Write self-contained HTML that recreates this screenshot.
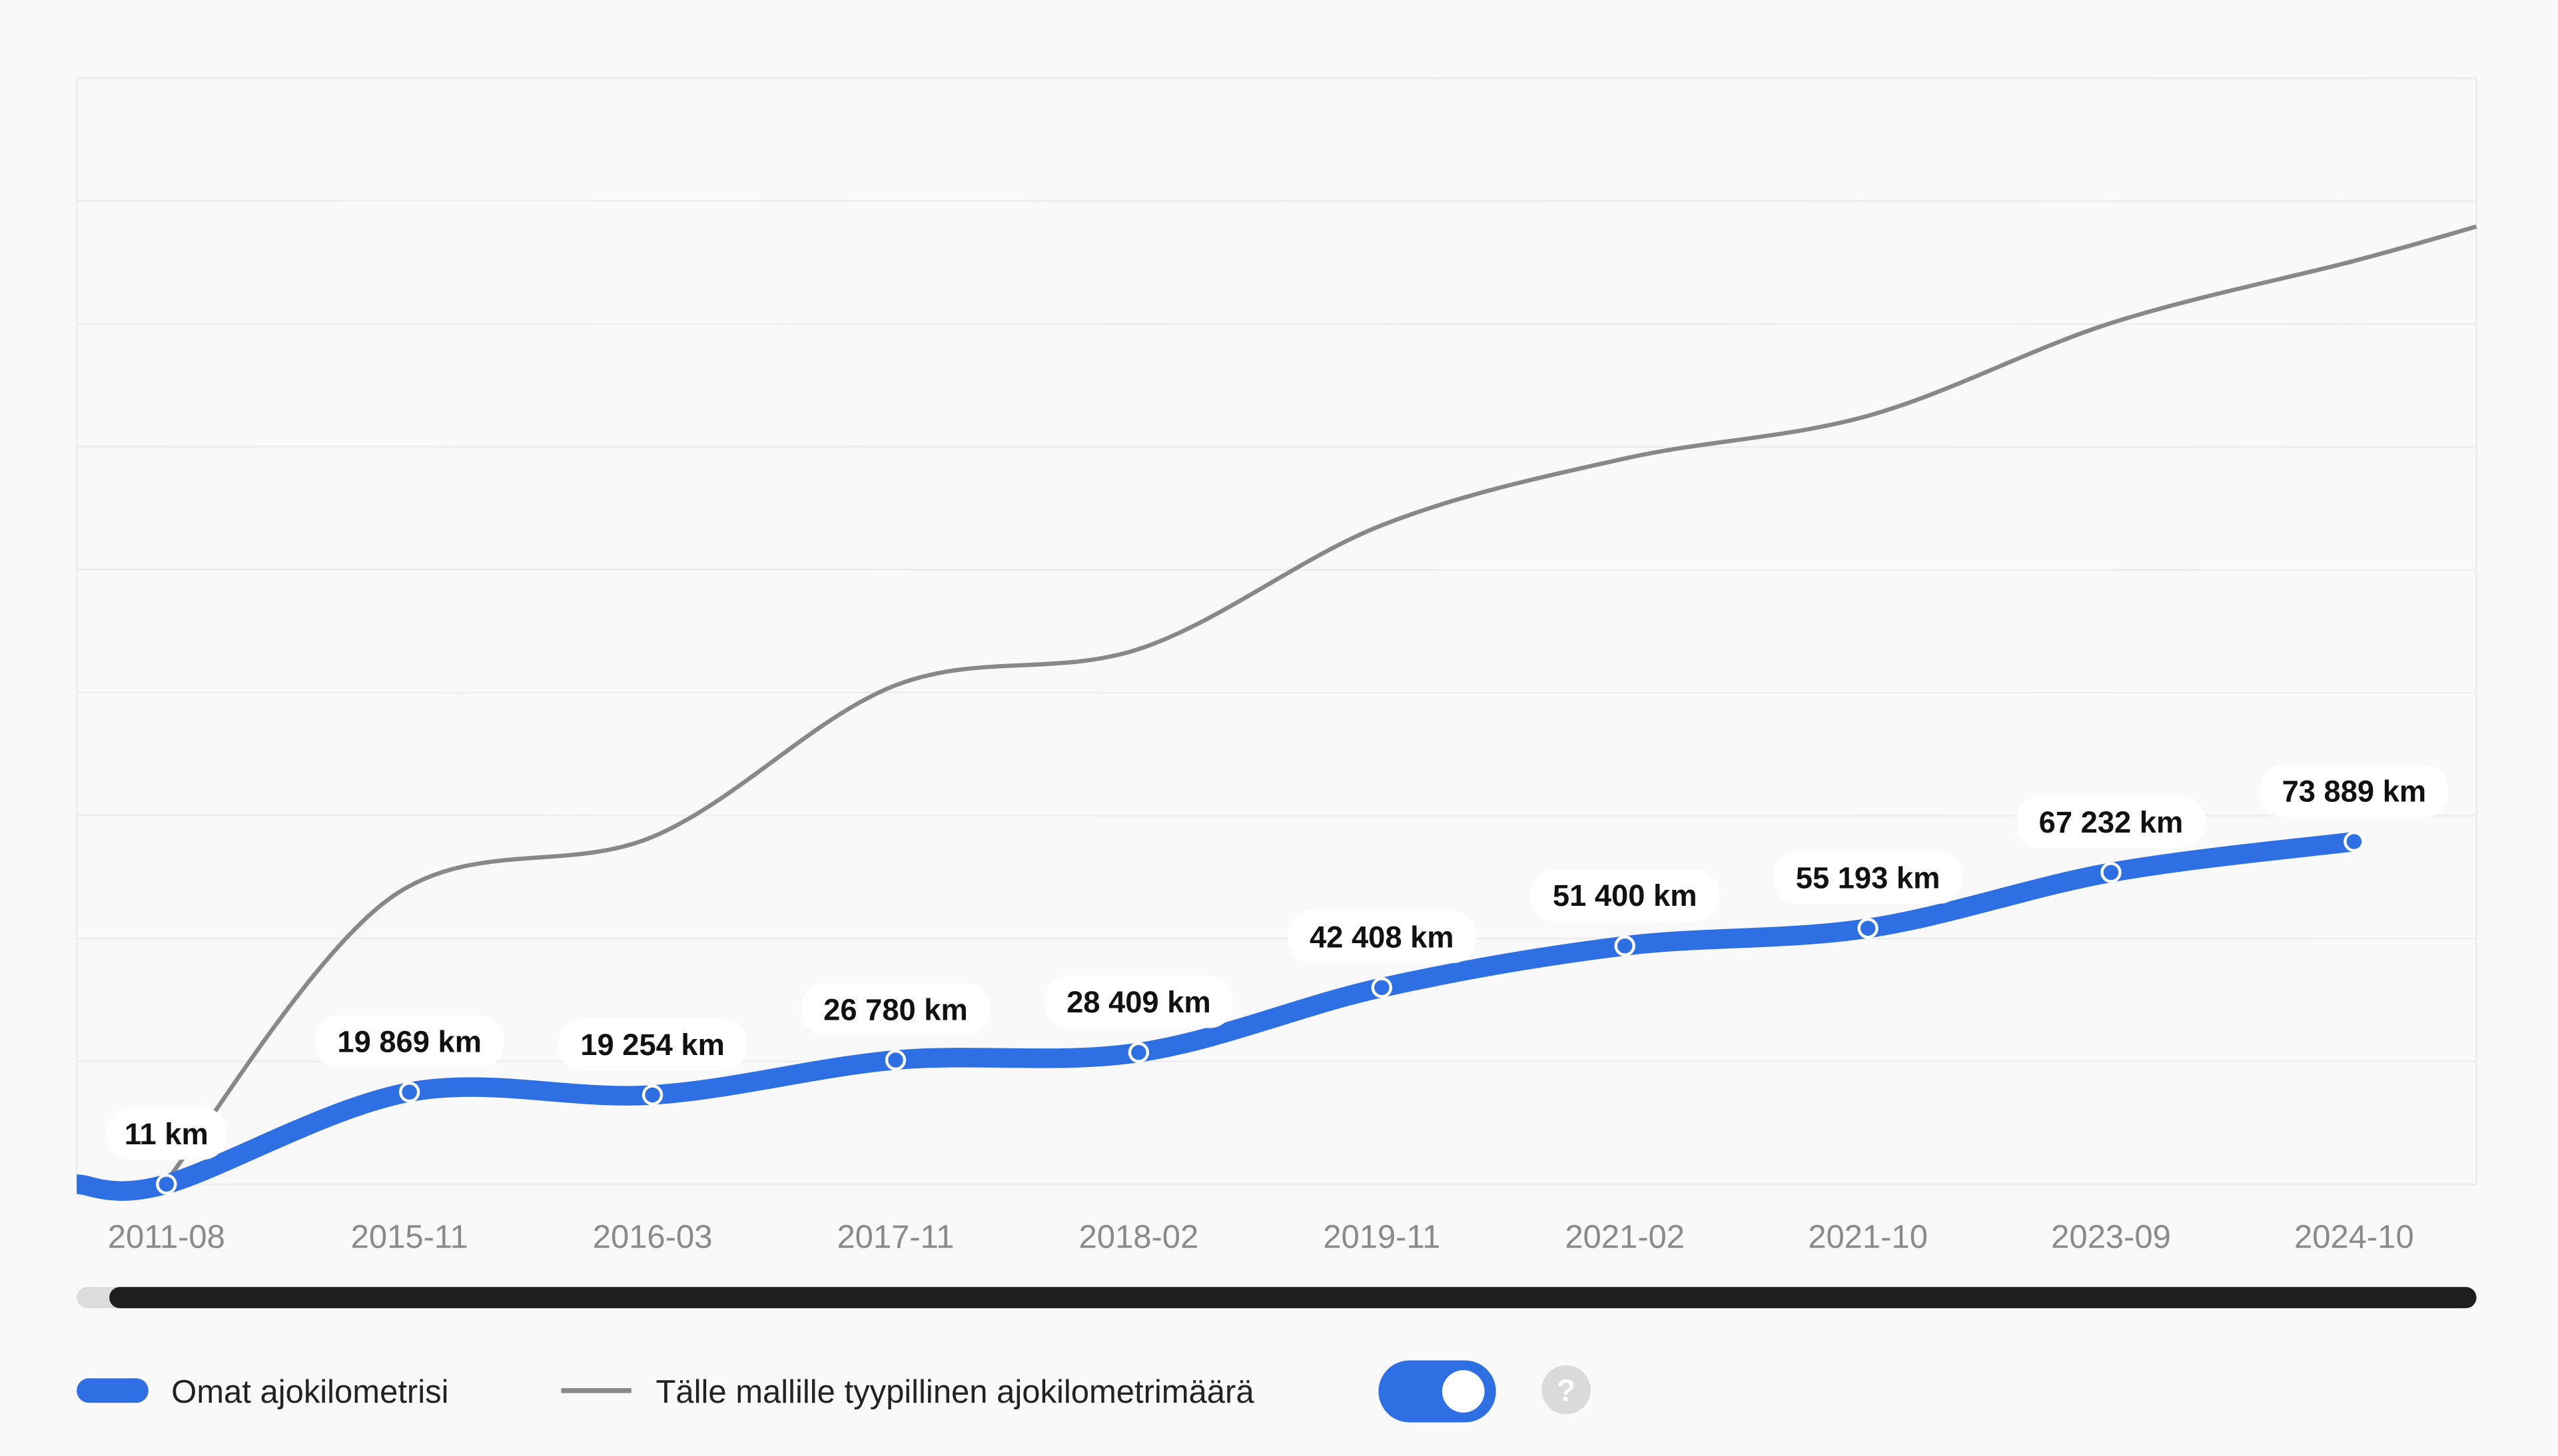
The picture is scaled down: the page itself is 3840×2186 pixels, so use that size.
<!DOCTYPE html>
<html><head><meta charset="utf-8"><style>
html,body{margin:0;padding:0;background:#f9f9f9;}
svg{display:block;font-family:"Liberation Sans",sans-serif;}
</style></head><body>
<svg id="chart" width="3840" height="2186" viewBox="0 0 1568 892.6" xmlns="http://www.w3.org/2000/svg">
<rect x="0" y="0" width="1568" height="893" fill="#f9f9f9"/>
<g id="grid"></g>
<g id="series"></g>
<g id="xaxis"></g>
<g>
<rect x="47" y="789" width="1471" height="13" rx="6.5" fill="#dcdcdc"/>
<rect x="67" y="789" width="1451" height="13" rx="6.5" fill="#1e1e1e"/>
</g>
<g>
<g>
<rect x="47" y="845" width="44" height="15" rx="7.5" fill="#2f6fe4"/>
<text x="105" y="860" font-size="20" fill="#222">Omat ajokilometrisi</text>
</g>
<g>
<line x1="344" y1="852.5" x2="387" y2="852.5" stroke="#888" stroke-width="3"/>
<text x="402" y="860" font-size="20" fill="#222">Tälle mallille tyypillinen ajokilometrimäärä</text>
</g>
<g>
<rect x="845" y="834" width="72" height="38" rx="19" fill="#2f6fe4"/>
<circle cx="897" cy="853" r="13" fill="#fff"/>
</g>
<g>
<circle cx="960" cy="852" r="15" fill="#dadada"/>
<text x="960" y="859" font-size="19" font-weight="bold" fill="#fff" text-anchor="middle">?</text>
</g>
</g>
</svg>
<script>
const categories = ["2011-08","2015-11","2016-03","2017-11","2018-02","2019-11","2021-02","2021-10","2023-09","2024-10"];
const ownValues = [11,19869,19254,26780,28409,42408,51400,55193,67232,73889];
const ownLabels = ["11 km","19 869 km","19 254 km","26 780 km","28 409 km","42 408 km","51 400 km","55 193 km","67 232 km","73 889 km"];
const ownStartPos = -0.37;
const typicalPos = [0,0.926,2,3,4,5,6,7,8,9,9.503];
const typicalValues = [700,61900,74900,107600,115400,142100,156500,165700,185700,199100,206500];
const gridValues = [0,26500,53000,79500,106000,132500,159000,185500,212000,238500];

const NS="http://www.w3.org/2000/svg";
const plotL=47,plotR=1518,plotT=48,plotB=726;
const x0=102,step=149;
const xPos=i=>x0+i*step;
const yPos=v=>plotB-v*0.002843;
function mk(tag,attrs,parent){const e=document.createElementNS(NS,tag);for(const k in attrs)e.setAttribute(k,attrs[k]);parent.appendChild(e);return e;}
function smooth(pts){
  let d="M"+pts[0][0]+","+pts[0][1];
  for(let i=0;i<pts.length-1;i++){
    const p0=pts[i-1]||pts[i],p1=pts[i],p2=pts[i+1],p3=pts[i+2]||p2;
    const t=6;
    const c1=[p1[0]+(p2[0]-p0[0])/t,p1[1]+(p2[1]-p0[1])/t];
    const c2=[p2[0]-(p3[0]-p1[0])/t,p2[1]-(p3[1]-p1[1])/t];
    d+=" C"+c1[0]+","+c1[1]+" "+c2[0]+","+c2[1]+" "+p2[0]+","+p2[1];
  }
  return d;
}
const grid=document.getElementById('grid');
const bg=mk('rect',{x:plotL,y:plotT,width:plotR-plotL,height:plotB-plotT,fill:"#f9f9f9",stroke:"#ececec","stroke-width":1},grid);


gridValues.forEach(v=>{
  const l=mk('line',{x1:plotL,x2:plotR,y1:yPos(v)-(v/26500)*0.03,y2:yPos(v),stroke:"#ececec","stroke-width":1},grid);
  
  
});
const series=document.getElementById('series');
// typical line
const tp=typicalPos.map((p,i)=>[xPos(p),yPos(typicalValues[i])]);
const tl=mk('path',{d:smooth(tp),fill:"none",stroke:"#888","stroke-width":2.6,"stroke-linejoin":"round"},series);


// own line
const op=[[plotL,yPos(ownValues[0])]].concat(ownValues.map((v,i)=>[xPos(i),yPos(v)]));
const ol=mk('path',{d:smooth(op),fill:"none",stroke:"#2f6fe4","stroke-width":12,"stroke-linecap":"butt","stroke-linejoin":"round"},series);


ownValues.forEach((v,i)=>{
  const x=xPos(i),y=yPos(v);
  const c=mk('circle',{cx:x,cy:y,r:5.5,fill:"#2f6fe4",stroke:"#fff","stroke-width":1.8},series);
  
  
  const w=ownLabels[i].length*10.6+20;
  const r=mk('rect',{x:x-w/2,y:y-47,width:w,height:32,rx:14,fill:"#fff"},series);
  
  
  const t=mk('text',{x:x,y:y-24.5,"text-anchor":"middle","font-size":18.5,"font-weight":"bold",fill:"#111"},series);
  t.textContent=ownLabels[i];
  
  
});
const xa=document.getElementById('xaxis');
categories.forEach((c,i)=>{
  const t=mk('text',{x:xPos(i),y:765,"text-anchor":"middle","font-size":20,fill:"#8a8a8a"},xa);
  t.textContent=c;
  
  
});
</script>
</body></html>
